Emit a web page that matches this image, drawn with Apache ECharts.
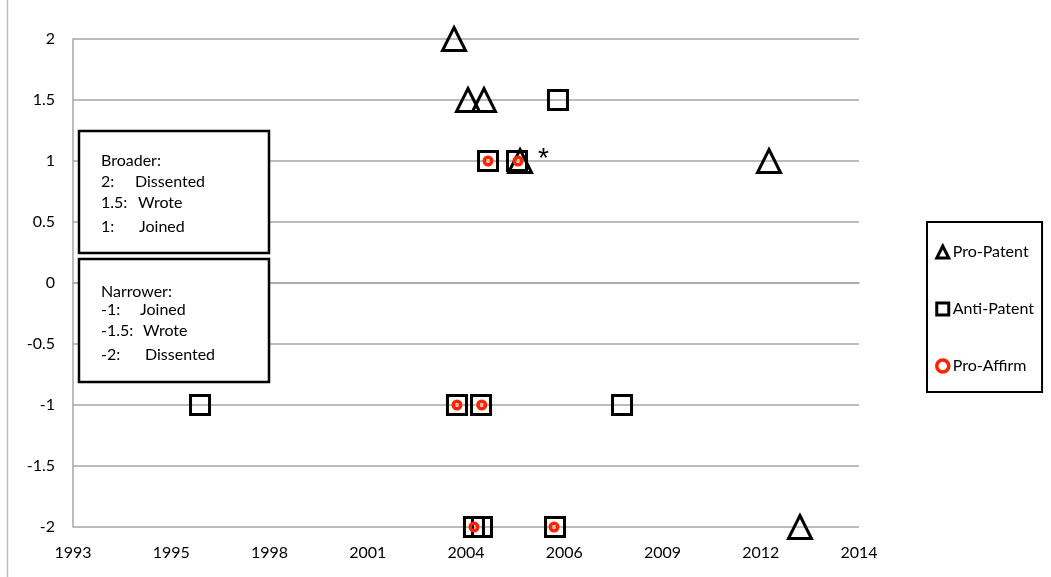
<!DOCTYPE html>
<html>
<head>
<meta charset="utf-8">
<script src="https://cdn.jsdelivr.net/npm/echarts@6/dist/echarts.min.js"></script>
<style>
html,body{margin:0;padding:0;background:#fff;}
#chart{width:1051px;height:577px;}
</style>
</head>
<body>
<div id="chart"></div>
<script>
// ---- data ----
const xTickLabels = ['1993','1995','1998','2001','2004','2006','2009','2012','2014'];
const yTickLabels = ['-2','-1.5','-1','-0.5','0','0.5','1','1.5','2'];

const proPatentDates  = ['2003-09-14','2004-02-03','2004-07-15','2005-07-17','2012-06-24','2013-05-05'];
const proPatentScores = [2, 1.5, 1.5, 1, 1, -2];
const proPatentNotes  = ['', '', '', '*', '', ''];

const antiPatentDates  = ['2006-08-07','2004-08-25','2005-06-16','1996-08-16','2003-10-14','2004-06-15','2008-05-20','2004-04-04','2004-06-25','2006-07-08'];
const antiPatentScores = [1.5, 1, 1, -1, -1, -1, -1, -2, -2, -2];

const proAffirmDates  = ['2004-08-25','2005-06-26','2003-10-14','2004-06-22','2004-04-04','2006-06-28'];
const proAffirmScores = [1, 1, -1, -1, -2, -2];

const broaderLines  = [['Broader:', ''], ['2:', 'Dissented'], ['1.5:', 'Wrote'], ['1:', 'Joined']];
const narrowerLines = [['Narrower:', ''], ['-1:', 'Joined'], ['-1.5:', 'Wrote'], ['-2:', 'Dissented']];

// ---- helpers ----
function serial(d){
  const p = d.split('-').map(Number);
  return (Date.UTC(p[0], p[1]-1, p[2]) - Date.UTC(1899, 11, 30)) / 86400000;
}
const FONT = 'Lato, "Open Sans", sans-serif';
const X_MIN = 34000, X_STEP = 1000, X_MAX = X_MIN + X_STEP * (xTickLabels.length - 1);

const proPatentData = proPatentDates.map((d, i) => {
  const item = { value: [serial(d), proPatentScores[i]] };
  if (proPatentNotes[i]) {
    item.label = { show: true, formatter: proPatentNotes[i], position: 'right', distance: 5, offset: [0, -2],
      fontSize: 28, fontFamily: '"Liberation Sans", Arial, sans-serif', color: '#000' };
  }
  return item;
});
const antiPatentData = antiPatentDates.map((d, i) => [serial(d), antiPatentScores[i]]);
const proAffirmData = proAffirmDates.map((d, i) => [serial(d), proAffirmScores[i]]);

// ---- text boxes (annotation) ----
function boxRect(x, y, w, h){
  return { type: 'rect', z: 100, zlevel: 1, shape: { x: x, y: y, width: w, height: h },
    style: { fill: '#ffffff', stroke: '#000', lineWidth: 2.5 } };
}
function boxTexts(lines, ys, wordXs){
  const out = [];
  lines.forEach((ln, i) => {
    out.push({ type: 'text', z: 101, zlevel: 1, x: 101, y: ys[i],
      style: { text: ln[0], font: '16px ' + FONT, fill: '#000', verticalAlign: 'middle' } });
    if (ln[1]) out.push({ type: 'text', z: 101, zlevel: 1, x: wordXs[i], y: ys[i],
      style: { text: ln[1], font: '16px ' + FONT, fill: '#000', verticalAlign: 'middle' } });
  });
  return out;
}

const chart = echarts.init(document.getElementById('chart'));
const option = {
  animation: false,
  backgroundColor: '#fff',
  grid: { left: 73, right: 192, top: 39, bottom: 50 },
  xAxis: {
    type: 'value', min: X_MIN, max: X_MAX, interval: X_STEP,
    axisLine: { show: true, lineStyle: { color: '#a6a6a6', width: 1.5 } },
    axisTick: { show: false },
    splitLine: { show: false },
    axisLabel: { color: '#000', fontSize: 16, fontFamily: FONT, margin: 18,
      formatter: v => xTickLabels[Math.round((v - X_MIN) / X_STEP)] }
  },
  yAxis: {
    type: 'value', min: -2, max: 2, interval: 0.5,
    axisLine: { show: true, lineStyle: { color: '#a6a6a6', width: 1.5 } },
    axisTick: { show: false },
    splitLine: { show: true, lineStyle: { color: '#a6a6a6', width: 1.5 } },
    axisLabel: { color: '#000', fontSize: 16, fontFamily: FONT, margin: 18,
      formatter: v => yTickLabels[Math.round((v + 2) / 0.5)] }
  },
  legend: {
    orient: 'vertical', left: 927, top: 222,
    padding: [22, 8, 18, 8],
    itemGap: 41, itemWidth: 12, itemHeight: 12,
    borderColor: '#000', borderWidth: 2,
    textStyle: { color: '#000', fontSize: 16, fontFamily: FONT, lineHeight: 16, padding: [0, 0, 0, -1] },
    data: [
      { name: 'Pro-Patent', icon: 'triangle', itemStyle: { color: 'transparent', borderColor: '#000', borderWidth: 3, opacity: 1 } },
      { name: 'Anti-Patent', icon: 'rect', itemStyle: { color: 'transparent', borderColor: '#000', borderWidth: 3, opacity: 1 } },
      { name: 'Pro-Affirm', icon: 'circle', itemStyle: { color: 'transparent', borderColor: '#ff2200', borderWidth: 3.5, opacity: 1 } }
    ]
  },
  series: [
    { name: 'Pro-Patent', type: 'scatter', symbol: 'triangle', symbolSize: 23, data: proPatentData,
      itemStyle: { color: 'transparent', borderColor: '#000', borderWidth: 3, opacity: 1 } },
    { name: 'Anti-Patent', type: 'scatter', symbol: 'rect', symbolSize: 19, data: antiPatentData,
      itemStyle: { color: 'transparent', borderColor: '#000', borderWidth: 3, opacity: 1 } },
    { name: 'Pro-Affirm', type: 'scatter', symbol: 'circle', symbolSize: 7.5, data: proAffirmData,
      itemStyle: { color: 'transparent', borderColor: '#ff2200', borderWidth: 3.5, opacity: 1 } }
  ],
  graphic: [
    { type: 'line', shape: { x1: 7.5, y1: 0, x2: 7.5, y2: 577 }, style: { stroke: '#bdbdbd', lineWidth: 1.5 } },
    boxRect(79, 131, 190, 122),
    boxRect(79, 259, 190, 123)
  ].concat(boxTexts(broaderLines, [161, 182, 203, 227], [0, 135, 138, 139]))
   .concat(boxTexts(narrowerLines, [292, 310, 331, 355], [0, 140, 143, 145]))
};
chart.setOption(option);
</script>
</body>
</html>
